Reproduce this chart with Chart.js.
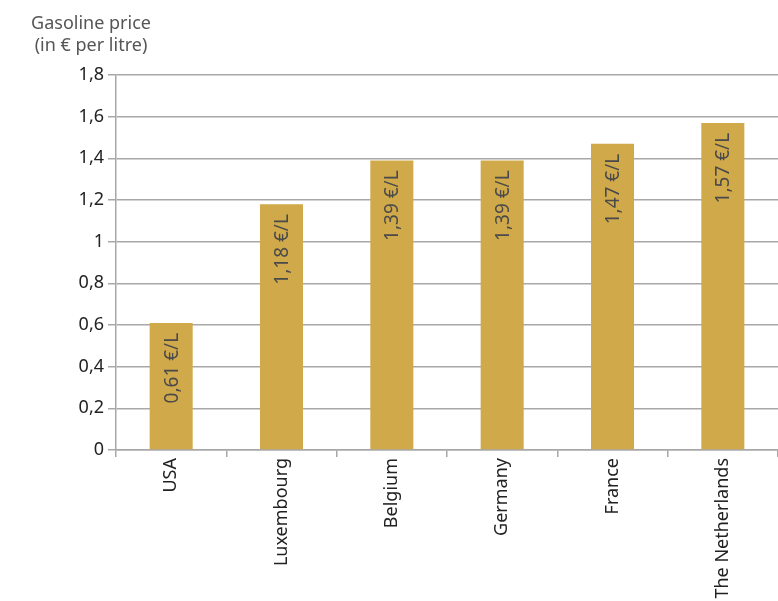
<!DOCTYPE html>
<html>
<head>
<meta charset="utf-8">
<script src="https://cdn.jsdelivr.net/npm/chart.js@4.4.0/dist/chart.umd.min.js"></script>
<style>
  html, body { margin: 0; padding: 0; background: #fff; }
  #wrap { width: 778px; height: 601px; position: relative; }
</style>
</head>
<body>
<div id="wrap"><canvas id="priceChart" width="778" height="601"></canvas></div>
<script>
// data
const countries = ['USA', 'Luxembourg', 'Belgium', 'Germany', 'France', 'The Netherlands'];
const prices = [0.61, 1.18, 1.39, 1.39, 1.47, 1.57];
const priceLabels = ['0,61 €/L', '1,18 €/L', '1,39 €/L', '1,39 €/L', '1,47 €/L', '1,57 €/L'];
const titleLines = ['Gasoline price', '(in € per litre)'];

const FONT = '"Noto Sans", "DejaVu Sans", sans-serif';
const GRID = '#a8a8a8';

// labels inside the bars, rotated, starting near the top
const barLabels = {
  id: 'barLabels',
  afterDatasetsDraw(chart) {
    const ctx = chart.ctx;
    const meta = chart.getDatasetMeta(0);
    ctx.save();
    ctx.font = '19px ' + FONT;
    ctx.fillStyle = '#4a4a4a';
    ctx.textAlign = 'right';
    ctx.textBaseline = 'middle';
    meta.data.forEach((bar, i) => {
      ctx.save();
      ctx.translate(bar.x + 1, bar.y + 10);
      ctx.rotate(-Math.PI / 2);
      ctx.fillText(priceLabels[i], 0, 0);
      ctx.restore();
    });
    ctx.restore();
  }
};

// axis title top-left
const axisTitle = {
  id: 'axisTitle',
  afterDraw(chart) {
    const ctx = chart.ctx;
    ctx.save();
    ctx.font = '18px ' + FONT;
    ctx.fillStyle = '#555';
    ctx.textAlign = 'center';
    ctx.textBaseline = 'alphabetic';
    ctx.fillText(titleLines[0], 91, 29);
    ctx.fillText(titleLines[1], 91, 51);
    ctx.restore();
  }
};

new Chart(document.getElementById('priceChart'), {
  type: 'bar',
  data: {
    labels: countries,
    datasets: [{
      data: prices,
      backgroundColor: '#d0a94a',
      borderWidth: 0,
      barPercentage: 0.78,
      categoryPercentage: 0.5
    }]
  },
  options: {
    responsive: false,
    animation: false,
    layout: { padding: { top: 75, left: 0, right: 0, bottom: 0 } },
    plugins: {
      legend: { display: false },
      tooltip: { enabled: false }
    },
    scales: {
      x: {
        grid: { offset: true, drawOnChartArea: false, color: GRID, lineWidth: 1.5, tickLength: 7 },
        border: { color: GRID, width: 1.5 },
        ticks: {
          maxRotation: 90, minRotation: 90,
          color: '#222',
          font: { family: FONT, size: 18 },
          padding: 1
        },
        afterFit(scale) { scale.height = 151; }
      },
      y: {
        min: 0,
        max: 1.8,
        ticks: {
          stepSize: 0.2,
          color: '#222',
          font: { family: FONT, size: 18 },
          padding: 4,
          callback: v => String(Math.round(v * 10) / 10).replace('.', ',')
        },
        grid: { color: GRID, lineWidth: 1.5, tickLength: 8 },
        border: { color: GRID, width: 1.5 },
        afterFit(scale) { scale.width = 116; }
      }
    }
  },
  plugins: [barLabels, axisTitle]
});
</script>
</body>
</html>
